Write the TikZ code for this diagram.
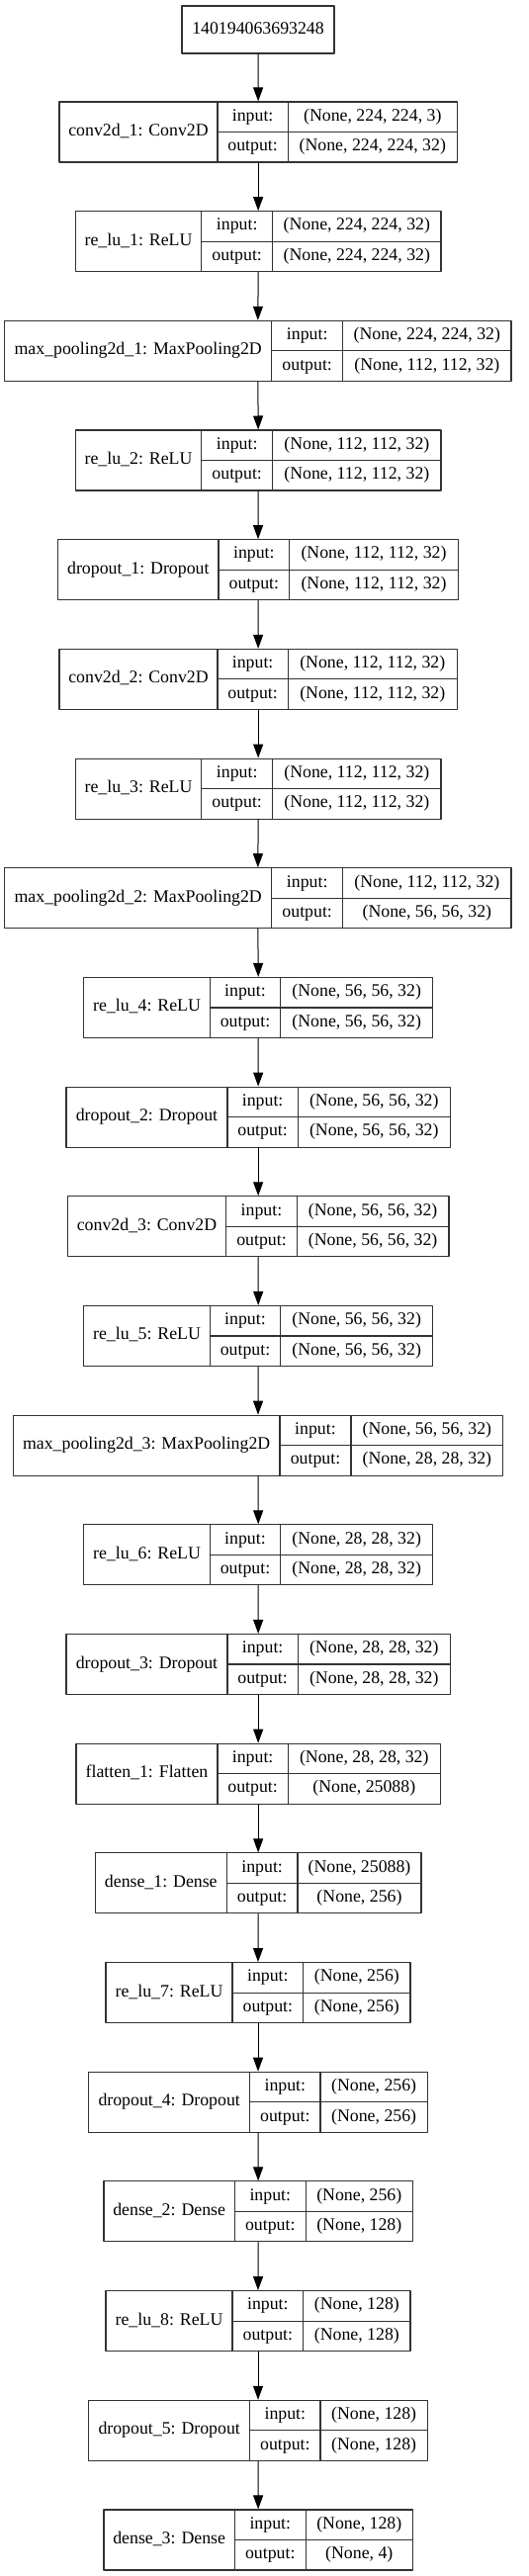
\documentclass[tikz,border=0pt]{standalone}
\usepackage{fontspec}
\setmainfont{Liberation Serif}
\usetikzlibrary{arrows.meta}
\definecolor{ttttzz}{rgb}{0.2,0.2,0.2}
% one layer row: name, row, left, name|io, io|value, right, label, input, output
\newcommand{\kerasnode}[9]{%
\pgfmathsetmacro{\ytop}{103+(#2-1)*110.68}
\node[layerbox,minimum width={#6-#3},minimum height=61] (#1) at ({(#3+#6)/2},{\ytop+30.5}) {};
\node[cellbox,minimum width={#4-#3},minimum height=61] (#1-n) at ({(#3+#4)/2},{\ytop+30.5}) {#7};
\node[cellbox,minimum width={#5-#4},minimum height=30.5] (#1-ik) at ({(#4+#5)/2},{\ytop+15.25}) {input:};
\node[cellbox,minimum width={#5-#4},minimum height=30.5] (#1-ok) at ({(#4+#5)/2},{\ytop+45.75}) {output:};
\node[cellbox,minimum width={#6-#5},minimum height=30.5] (#1-iv) at ({(#5+#6)/2},{\ytop+15.25}) {#8};
\node[cellbox,minimum width={#6-#5},minimum height=30.5] (#1-ov) at ({(#5+#6)/2},{\ytop+45.75}) {#9};
}
\begin{document}
\begin{tikzpicture}[line cap=round,line join=round,>={Triangle[length=14pt,width=10pt]},x=1pt,y=-1pt,
  layerbox/.style={inner sep=0pt,outer sep=0.55pt},
  cellbox/.style={draw=ttttzz,line width=1.1pt,inner sep=0pt,text depth=4pt,text height=12pt,font=\fontsize{17.8}{20}\selectfont},
  link/.style={->,line width=1pt,black}]
\path[use as bounding box,fill=white] (0,0) rectangle (535,2605);
\node[cellbox,minimum width=154,minimum height=48] (inp) at (261,30) {140194063693248};
\kerasnode{conv1}{1}{60}{220}{291.3}{462.3}{conv2d\_1: Conv2D}{(None, 224, 224, 3)}{(None, 224, 224, 32)}
\kerasnode{relu1}{2}{76.3}{203.7}{275.7}{446}{re\_lu\_1: ReLU}{(None, 224, 224, 32)}{(None, 224, 224, 32)}
\kerasnode{pool1}{3}{4.7}{274.7}{346.7}{517}{max\_pooling2d\_1: MaxPooling2D}{(None, 224, 224, 32)}{(None, 112, 112, 32)}
\kerasnode{relu2}{4}{76.3}{203.7}{275.7}{446}{re\_lu\_2: ReLU}{(None, 112, 112, 32)}{(None, 112, 112, 32)}
\kerasnode{drop1}{5}{58.7}{221}{292.7}{463.3}{dropout\_1: Dropout}{(None, 112, 112, 32)}{(None, 112, 112, 32)}
\kerasnode{conv2}{6}{60}{220}{291.3}{462.3}{conv2d\_2: Conv2D}{(None, 112, 112, 32)}{(None, 112, 112, 32)}
\kerasnode{relu3}{7}{76.3}{203.7}{275.7}{446}{re\_lu\_3: ReLU}{(None, 112, 112, 32)}{(None, 112, 112, 32)}
\kerasnode{pool2}{8}{4.7}{274.7}{346.7}{517}{max\_pooling2d\_2: MaxPooling2D}{(None, 112, 112, 32)}{(None, 56, 56, 32)}
\kerasnode{relu4}{9}{84.7}{212.3}{283.7}{437.7}{re\_lu\_4: ReLU}{(None, 56, 56, 32)}{(None, 56, 56, 32)}
\kerasnode{drop2}{10}{67}{230}{301.3}{455.3}{dropout\_2: Dropout}{(None, 56, 56, 32)}{(None, 56, 56, 32)}
\kerasnode{conv3}{11}{68.3}{228.7}{300.3}{454}{conv2d\_3: Conv2D}{(None, 56, 56, 32)}{(None, 56, 56, 32)}
\kerasnode{relu5}{12}{84.7}{212.3}{283.7}{437.7}{re\_lu\_5: ReLU}{(None, 56, 56, 32)}{(None, 56, 56, 32)}
\kerasnode{pool3}{13}{13.3}{283}{355}{508.7}{max\_pooling2d\_3: MaxPooling2D}{(None, 56, 56, 32)}{(None, 28, 28, 32)}
\kerasnode{relu6}{14}{84.7}{212.3}{283.7}{437.7}{re\_lu\_6: ReLU}{(None, 28, 28, 32)}{(None, 28, 28, 32)}
\kerasnode{drop3}{15}{67}{230}{301.3}{455.3}{dropout\_3: Dropout}{(None, 28, 28, 32)}{(None, 28, 28, 32)}
\kerasnode{flat1}{16}{77}{220}{291.3}{445.3}{flatten\_1: Flatten}{(None, 28, 28, 32)}{(None, 25088)}
\kerasnode{dense1}{17}{96.3}{229.3}{301}{426}{dense\_1: Dense}{(None, 25088)}{(None, 256)}
\kerasnode{relu7}{18}{107}{235}{306.7}{415}{re\_lu\_7: ReLU}{(None, 256)}{(None, 256)}
\kerasnode{drop4}{19}{89.7}{252.7}{324}{432.3}{dropout\_4: Dropout}{(None, 256)}{(None, 256)}
\kerasnode{dense2}{20}{105}{237.3}{309.3}{417.3}{dense\_2: Dense}{(None, 256)}{(None, 128)}
\kerasnode{relu8}{21}{107}{235}{306.7}{415}{re\_lu\_8: ReLU}{(None, 128)}{(None, 128)}
\kerasnode{drop5}{22}{89.7}{252.7}{324}{432.3}{dropout\_5: Dropout}{(None, 128)}{(None, 128)}
\kerasnode{dense3}{23}{105}{237.3}{309.3}{417.3}{dense\_3: Dense}{(None, 128)}{(None, 4)}
\foreach \a/\b in {inp/conv1,conv1/relu1,relu1/pool1,pool1/relu2,relu2/drop1,drop1/conv2,conv2/relu3,relu3/pool2,pool2/relu4,relu4/drop2,drop2/conv3,conv3/relu5,relu5/pool3,pool3/relu6,relu6/drop3,drop3/flat1,flat1/dense1,dense1/relu7,relu7/drop4,drop4/dense2,dense2/relu8,relu8/drop5,drop5/dense3}
  \draw[link] (\a.south) -- (\b.north);
\end{tikzpicture}
\end{document}
